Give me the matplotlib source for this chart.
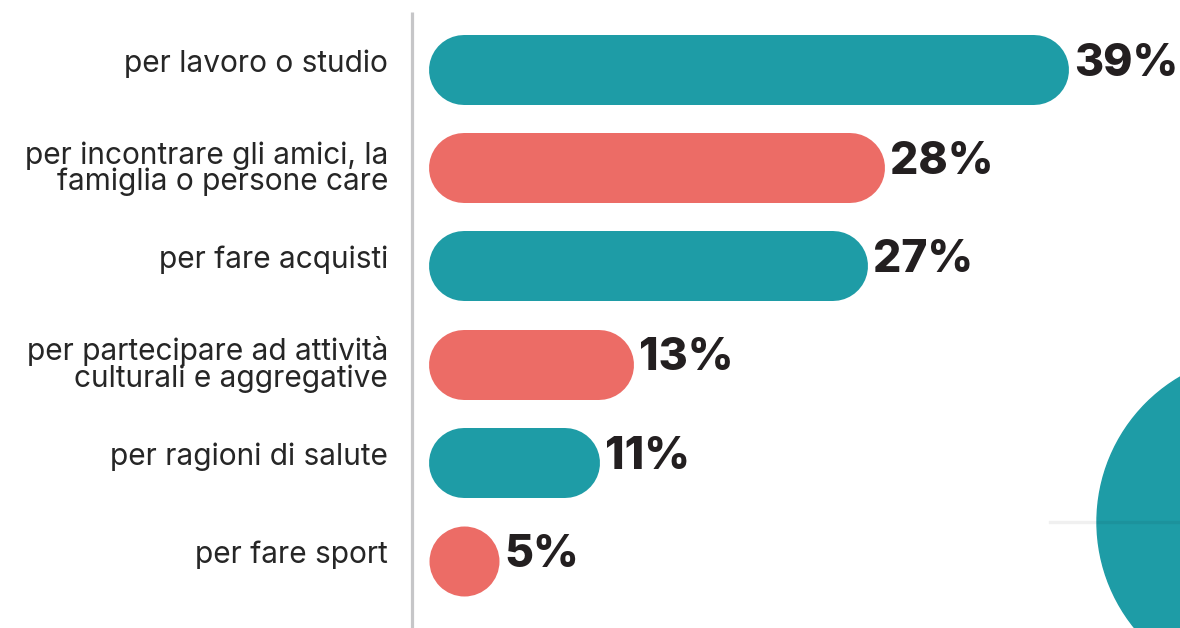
import matplotlib.pyplot as plt
from matplotlib.patches import Ellipse
from matplotlib.lines import Line2D

# dati
categorie = [
    "per lavoro o studio",
    "per incontrare gli amici, la\nfamiglia o persone care",
    "per fare acquisti",
    "per partecipare ad attività\nculturali e aggregative",
    "per ragioni di salute",
    "per fare sport",
]
valori = [39, 28, 27, 13, 11, 5]
etichette = ["39%", "28%", "27%", "13%", "11%", "5%"]

teal = "#1e9ca6"
salmon = "#ec6c66"
colori = [teal, salmon, teal, salmon, teal, salmon]

W, H, DPI = 1180, 628, 100
px_per_pct = 16.75
x0_px = 416
row_px = 98.2
first_px = 70

fig = plt.figure(figsize=(W / DPI, H / DPI), dpi=DPI)
ax = fig.add_axes([0, 0, 1, 1])
ax.set_xlim(-x0_px / px_per_pct, (W - x0_px) / px_per_pct)
ax.set_ylim((H - first_px) / row_px, -first_px / row_px)
ax.axis("off")

# cerchio decorativo in basso a destra
circ = Ellipse((1265 / W, 1 - 522 / H), 336 / W, 336 / H,
               transform=fig.transFigure, color=teal, zorder=0)
fig.patches.append(circ)
fig.lines.append(Line2D([1050 / W, 1], [1 - 522 / H] * 2, transform=fig.transFigure,
                        color="black", alpha=0.06, lw=2.4, zorder=1))

# asse verticale grigio
ax.plot([-4.5 / px_per_pct] * 2, [(12 - first_px) / row_px, (H - first_px) / row_px],
        color="#c6c6c8", lw=2.3, solid_capstyle="butt")

bar_h_px = 70
cap = (bar_h_px / 2) / px_per_pct   # raggio delle estremità in unità dati
start = (429 - x0_px) / px_per_pct + cap
lw_pt = bar_h_px * 72 / DPI
line_gap = 24 / row_px

for i, (cat, v, lab, c) in enumerate(zip(categorie, valori, etichette, colori)):
    end = v - cap
    if end - start > 0.05:
        # barra con estremità arrotondate
        ax.plot([start, end], [i, i], color=c, lw=lw_pt, solid_capstyle="round", zorder=2)
    else:
        # barra troppo corta: solo un cerchio
        ax.plot([start], [i], color=c, marker="o", ms=lw_pt, mew=0, zorder=2)
    ax.text(v + 0.3, i + 0.06, lab, ha="left", va="baseline",
            fontsize=32, fontweight="heavy", family="Inter", color="#231f20")
    n = cat.count("\n")
    ax.text(-28 / px_per_pct, i + 0.02 + n * (line_gap - 0.04), cat, ha="right",
            va="baseline", fontsize=21.5, fontweight="normal", family="Inter",
            color="#262626", linespacing=0.9)

fig.savefig("out.png", dpi=DPI)
